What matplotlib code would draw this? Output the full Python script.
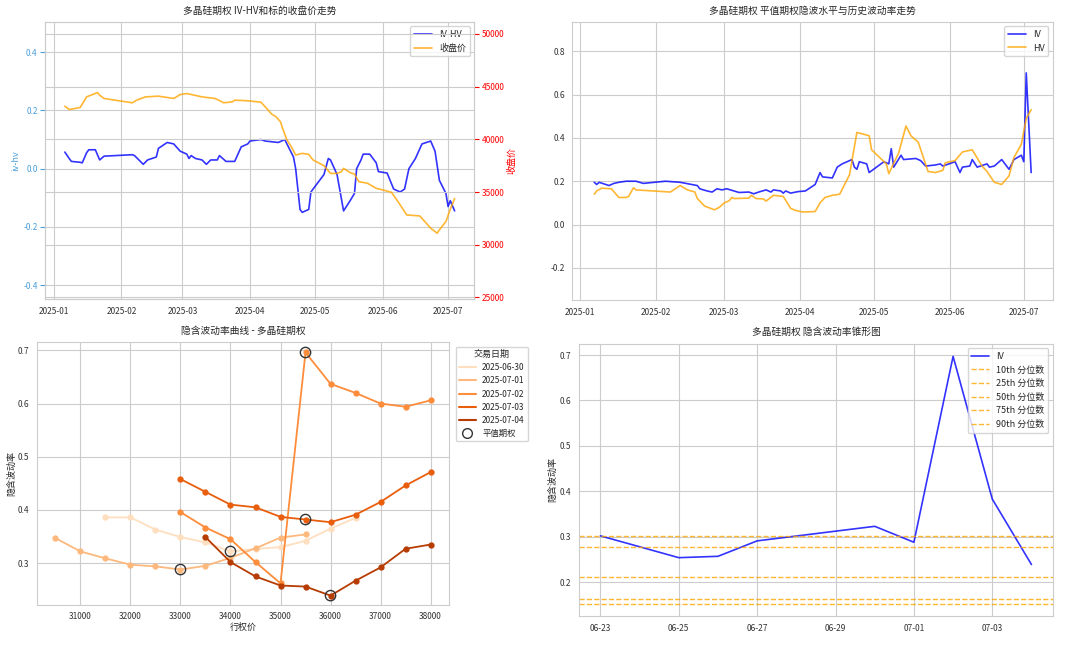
import numpy as np
import pandas as pd
import matplotlib
matplotlib.use("Agg")
import matplotlib.pyplot as plt
import matplotlib.dates as mdates
import seaborn as sns
from matplotlib.lines import Line2D

sns.set_style("whitegrid")
plt.rcParams['font.family'] = ['Noto Sans CJK SC', 'DejaVu Sans']
plt.rcParams['axes.unicode_minus'] = False
plt.rcParams['font.size'] = 6.5

base = pd.Timestamp('2025-01-01')

# IV-HV 与收盘价 (天数 = 距 2025-01-01)
ivhv_days = [5, 7, 8, 12, 13, 15, 16, 19, 21, 23, 36, 37, 41, 43, 47, 48, 52, 55, 58, 61, 62, 63, 65, 68, 70, 72,
             75, 76, 79, 83, 86, 89, 90, 95, 97, 103, 106, 108, 110, 111, 113, 114, 117, 118, 124, 126, 127, 130,
             133, 136, 138, 139, 141, 142, 145, 148, 149, 153, 156, 159, 161, 163, 166, 169, 173, 175, 177, 180,
             181, 182, 184]
ivhv_vals = [0.057, 0.035, 0.025, 0.022, 0.02, 0.055, 0.065, 0.065, 0.03, 0.043, 0.048, 0.045, 0.015, 0.03, 0.04,
             0.07, 0.09, 0.085, 0.06, 0.05, 0.035, 0.045, 0.035, 0.03, 0.015, 0.03, 0.03, 0.045, 0.025, 0.025,
             0.075, 0.085, 0.095, 0.1, 0.095, 0.09, 0.1, 0.07, 0.04, 0.0, -0.14, -0.15, -0.14, -0.08, -0.02,
             0.035, 0.03, -0.02, -0.145, -0.11, -0.085, 0.0, 0.03, 0.05, 0.05, 0.02, -0.01, -0.015, -0.07, -0.08,
             -0.07, 0.0, 0.035, 0.085, 0.095, 0.06, -0.04, -0.085, -0.13, -0.11, -0.145]
close_days = [5, 7, 12, 15, 20, 21, 23, 36, 38, 42, 48, 55, 58, 61, 68, 74, 78, 82, 83, 89, 95, 97, 100, 102, 104,
              105, 107, 109, 111, 114, 117, 119, 124, 127, 130, 132, 133, 136, 138, 140, 144, 148, 151, 155, 158,
              162, 168, 171, 173, 176, 177, 180, 182, 184]
close_vals = [43150, 42830, 43020, 44030, 44440, 44190, 43880, 43470, 43720, 44030, 44100, 43880, 44250, 44350,
              44030, 43880, 43470, 43560, 43720, 43660, 43530, 43090, 42390, 42140, 41670, 41040, 39930, 39300,
              38510, 38670, 38570, 38040, 37500, 36770, 36770, 36930, 37250, 36840, 36710, 35990, 35830, 35350,
              35200, 34970, 34090, 32830, 32730, 32040, 31570, 31090, 31410, 32200, 33370, 34380]

# 平值IV 与 HV
iv_days = [6, 7, 8, 12, 14, 16, 19, 21, 23, 26, 35, 41, 48, 49, 52, 54, 56, 58, 60, 65, 69, 71, 73, 76, 78, 79,
           82, 83, 84, 86, 89, 92, 96, 98, 99, 103, 105, 107, 109, 111, 112, 113, 114, 117, 118, 124, 126, 127,
           128, 131, 132, 137, 139, 141, 145, 147, 148, 153, 155, 156, 159, 160, 162, 166, 167, 169, 172, 175,
           177, 180, 181, 182, 184]
iv_vals = [0.195, 0.185, 0.195, 0.18, 0.19, 0.195, 0.2, 0.2, 0.2, 0.19, 0.2, 0.195, 0.18, 0.165, 0.155, 0.15,
           0.165, 0.16, 0.165, 0.148, 0.15, 0.142, 0.15, 0.16, 0.15, 0.16, 0.155, 0.145, 0.155, 0.145, 0.152,
           0.155, 0.185, 0.24, 0.22, 0.215, 0.265, 0.28, 0.29, 0.3, 0.265, 0.255, 0.29, 0.28, 0.24, 0.29, 0.28,
           0.35, 0.265, 0.32, 0.3, 0.305, 0.295, 0.27, 0.275, 0.28, 0.27, 0.29, 0.24, 0.265, 0.27, 0.3, 0.265,
           0.28, 0.265, 0.27, 0.3, 0.255, 0.3, 0.32, 0.29, 0.7, 0.24]
hv_days = [6, 7, 9, 13, 16, 19, 20, 22, 23, 37, 41, 44, 47, 48, 51, 55, 57, 59, 61, 62, 63, 69, 70, 72, 75, 76,
           79, 83, 86, 88, 91, 96, 98, 100, 103, 106, 110, 113, 118, 119, 125, 126, 130, 133, 135, 138, 142, 145,
           148, 149, 153, 156, 160, 164, 166, 169, 172, 175, 177, 180, 182, 184]
hv_vals = [0.14, 0.155, 0.168, 0.165, 0.125, 0.125, 0.13, 0.17, 0.16, 0.15, 0.18, 0.16, 0.15, 0.12, 0.085, 0.068,
           0.08, 0.1, 0.11, 0.125, 0.12, 0.122, 0.135, 0.12, 0.118, 0.108, 0.135, 0.13, 0.075, 0.065, 0.058, 0.06,
           0.1, 0.125, 0.135, 0.14, 0.23, 0.425, 0.41, 0.345, 0.28, 0.235, 0.33, 0.455, 0.41, 0.38, 0.245, 0.24,
           0.25, 0.285, 0.295, 0.335, 0.345, 0.27, 0.245, 0.195, 0.185, 0.225, 0.31, 0.37, 0.49, 0.53]

# 波动率曲线
smile_dates = ['2025-06-30', '2025-07-01', '2025-07-02', '2025-07-03', '2025-07-04']
smile_strikes = [
    [31500, 32000, 32500, 33000, 33500, 34000, 34500, 35000, 35500, 36000, 36500],
    [30500, 31000, 31500, 32000, 32500, 33000, 33500, 34000, 34500, 35000, 35500],
    [33000, 33500, 34000, 34500, 35000, 35500, 36000, 36500, 37000, 37500, 38000],
    [33000, 33500, 34000, 34500, 35000, 35500, 36000, 36500, 37000, 37500, 38000],
    [33500, 34000, 34500, 35000, 35500, 36000, 36500, 37000, 37500, 38000],
]
smile_iv = [
    [0.386, 0.386, 0.363, 0.349, 0.339, 0.322, 0.327, 0.330, 0.342, 0.365, 0.385],
    [0.347, 0.322, 0.309, 0.297, 0.294, 0.288, 0.295, 0.310, 0.328, 0.348, 0.354],
    [0.396, 0.367, 0.345, 0.302, 0.262, 0.696, 0.637, 0.620, 0.600, 0.594, 0.606],
    [0.458, 0.434, 0.410, 0.405, 0.387, 0.382, 0.377, 0.391, 0.415, 0.446, 0.471],
    [0.349, 0.302, 0.275, 0.258, 0.256, 0.239, 0.267, 0.292, 0.327, 0.335],
]
atm_strike = [34000, 33000, 35500, 35500, 36000]

# 锥形图
cone_dates = ['2025-06-23', '2025-06-25', '2025-06-26', '2025-06-27', '2025-06-30',
              '2025-07-01', '2025-07-02', '2025-07-03', '2025-07-04']
cone_iv = [0.302, 0.254, 0.257, 0.291, 0.323, 0.288, 0.697, 0.383, 0.239]
pct_labels = ['10th', '25th', '50th', '75th', '90th']
pct_vals = [0.152, 0.164, 0.212, 0.278, 0.301]


def to_dates(days):
    return base + pd.to_timedelta(days, unit='D')


fig = plt.figure(figsize=(10.8, 6.46), dpi=100)
ax_tl = fig.add_axes([0.042, 0.537, 0.397, 0.429])
ax_tr = fig.add_axes([0.530, 0.535, 0.445, 0.431])
ax_bl = fig.add_axes([0.034, 0.064, 0.382, 0.406])
ax_br = fig.add_axes([0.536, 0.046, 0.439, 0.422])

for a in [ax_tl, ax_tr, ax_bl, ax_br]:
    for s in a.spines.values():
        s.set_color('#cccccc')
    a.tick_params(labelsize=6, colors='#333333', pad=2)

# 左上
ax = ax_tl
ax.plot(to_dates(ivhv_days), ivhv_vals, color='blue', alpha=0.8, lw=1.2, label='IV-HV')
ax.set_ylim(-0.448, 0.504)
ax.set_yticks([-0.4, -0.2, 0.0, 0.2, 0.4])
ax.set_ylabel('iv-hv', color='#4a9fd8', labelpad=2)
ax.tick_params(axis='y', colors='#4a9fd8')
ax2 = ax.twinx()
ax2.plot(to_dates(close_days), close_vals, color='orange', alpha=0.8, lw=1.2, label='收盘价')
ax2.set_ylim(24840, 51140)
ax2.set_yticks([25000, 30000, 35000, 40000, 45000, 50000])
ax2.set_ylabel('收盘价', color='red', labelpad=2)
ax2.tick_params(axis='y', colors='red', labelsize=6, pad=2)
for s in ax2.spines.values():
    s.set_color('#cccccc')
h1, l1 = ax.get_legend_handles_labels()
h2, l2 = ax2.get_legend_handles_labels()
ax.legend(h1 + h2, l1 + l2, loc='upper right', fontsize=6.5)
ax.set_title('多晶硅期权 IV-HV和标的收盘价走势', fontsize=7)
ax.xaxis.set_major_formatter(mdates.DateFormatter('%Y-%m'))

# 右上
ax = ax_tr
ax.plot(to_dates(iv_days), iv_vals, color='blue', alpha=0.8, lw=1.2, label='IV')
ax.plot(to_dates(hv_days), hv_vals, color='orange', alpha=0.8, lw=1.2, label='HV')
ax.set_ylim(-0.35, 0.935)
ax.legend(loc='upper right', fontsize=6.5)
ax.set_title('多晶硅期权 平值期权隐波水平与历史波动率走势', fontsize=7)
ax.xaxis.set_major_formatter(mdates.DateFormatter('%Y-%m'))

# 左下
ax = ax_bl
colors = sns.color_palette('Oranges', 5)
handles = []
for i, d in enumerate(smile_dates):
    ax.plot(smile_strikes[i], smile_iv[i], marker='o', ms=3.5, lw=1.3, color=colors[i])
    handles.append(Line2D([], [], color=colors[i], lw=1.5, label=d))
    j = smile_strikes[i].index(atm_strike[i])
    ax.scatter(smile_strikes[i][j], smile_iv[i][j], s=55, facecolors='none', edgecolors='#333333',
               linewidths=1.0, zorder=5)
handles.append(Line2D([], [], ls='none', marker='o', ms=7, mfc='none', mec='#333333', label='平值期权'))
ax.set_xticks(range(31000, 38001, 1000))
ax.set_ylim(0.222, 0.715)
ax.set_yticks([0.3, 0.4, 0.5, 0.6, 0.7])
ax.set_xlabel('行权价', labelpad=1)
ax.set_ylabel('隐含波动率', labelpad=1)
ax.set_title('隐含波动率曲线 - 多晶硅期权', fontsize=7)
ax.legend(handles=handles, title='交易日期', loc='upper left', bbox_to_anchor=(1.005, 1.0),
          fontsize=6, title_fontsize=6.5)

# 右下
ax = ax_br
cd = pd.to_datetime(cone_dates)
ax.plot(cd, cone_iv, color='blue', alpha=0.8, lw=1.2, label='IV')
for lab, v in zip(pct_labels, pct_vals):
    ax.axhline(v, color='orange', ls='--', lw=1.0, alpha=0.8, label=f'{lab} 分位数')
ax.set_ylim(0.125, 0.725)
ax.set_ylabel('隐含波动率', labelpad=2)
ax.legend(loc='upper right', fontsize=6.5)
ax.set_title('多晶硅期权 隐含波动率锥形图', fontsize=7)
ax.set_xticks(pd.to_datetime(['2025-06-23', '2025-06-25', '2025-06-27', '2025-06-29',
                              '2025-07-01', '2025-07-03']))
ax.xaxis.set_major_formatter(mdates.DateFormatter('%m-%d'))

plt.savefig('out.png', dpi=100)
